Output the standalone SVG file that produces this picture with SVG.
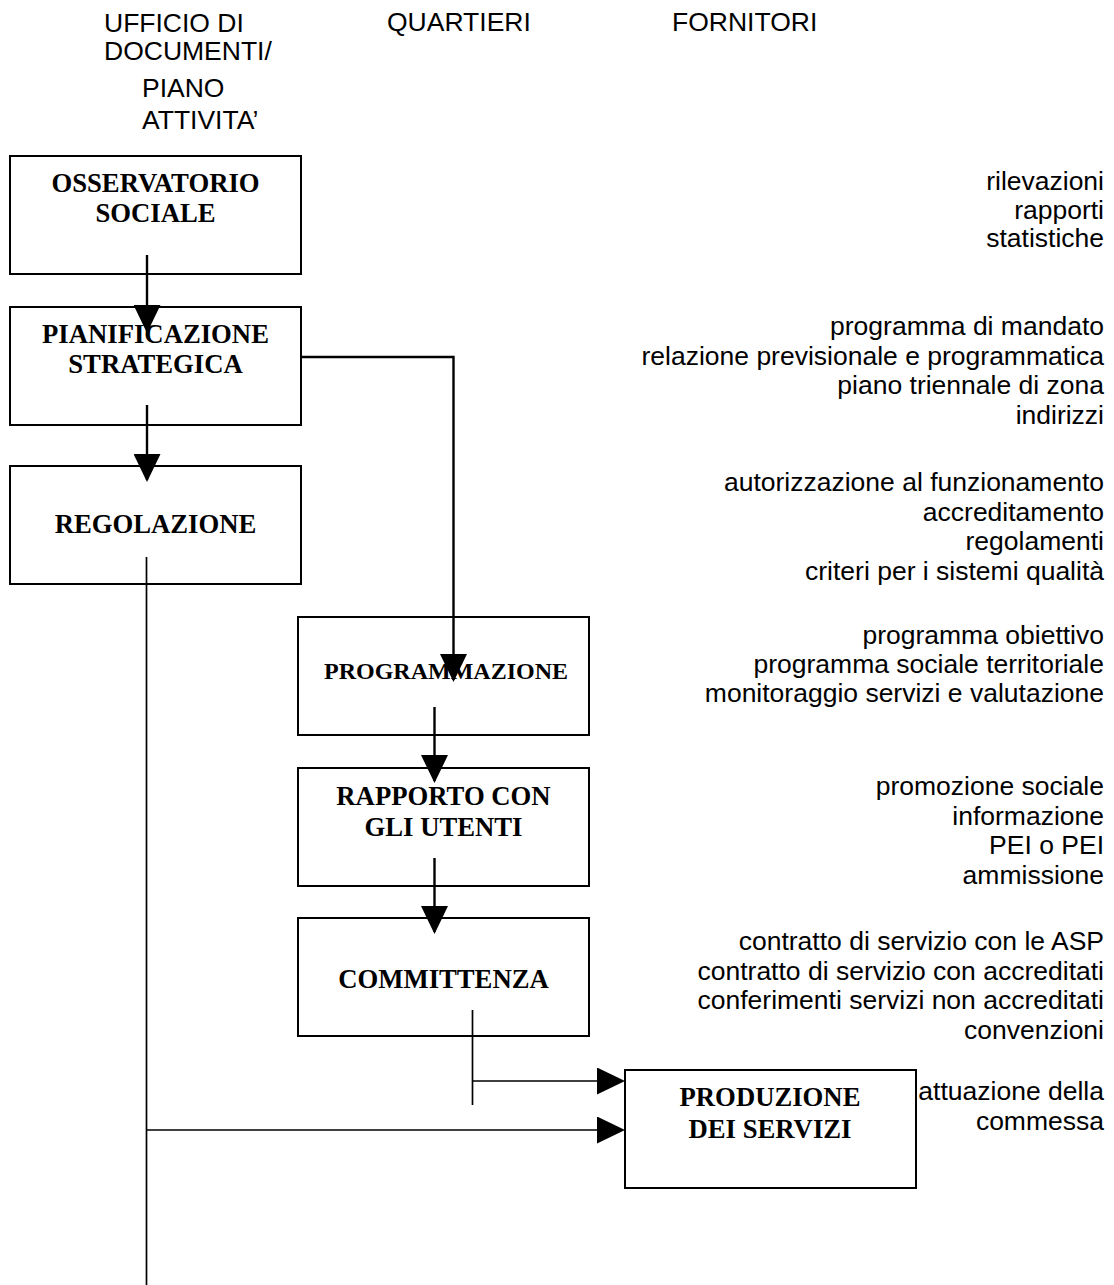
<svg xmlns="http://www.w3.org/2000/svg" width="1114" height="1285" viewBox="0 0 1114 1285">
<style>
.hdr{font-family:"Liberation Sans",Arial,sans-serif;font-size:26.5px;fill:#000}
.out{font-family:"Liberation Sans",Arial,sans-serif;font-size:26.5px;fill:#000;text-anchor:end}
.lbl{font-family:"Liberation Serif","Times New Roman",serif;font-weight:bold;font-size:26.7px;fill:#000;text-anchor:middle}
.box{fill:#fff;stroke:#000;stroke-width:2}
.con{fill:none;stroke:#000;stroke-width:2.4}
.thin{fill:none;stroke:#000;stroke-width:1.7}
</style>
<defs>
<marker id="ah" viewBox="0 0 28 27" refX="26" refY="13.5" markerWidth="28" markerHeight="27" markerUnits="userSpaceOnUse" orient="auto">
<path d="M0,0 L28,13.5 L0,27 Z" fill="#000"/>
</marker>
</defs>
<rect width="1114" height="1285" fill="#fff"/>
<g id="headers">
<text class="hdr" x="104" y="32">UFFICIO DI</text>
<text class="hdr" x="104" y="60">DOCUMENTI/</text>
<text class="hdr" x="142" y="97">PIANO</text>
<text class="hdr" x="142" y="129">ATTIVITA’</text>
<text class="hdr" x="387" y="31">QUARTIERI</text>
<text class="hdr" x="672" y="31">FORNITORI</text>
</g>
<g id="n-osservatorio">
<rect class="box" x="10" y="156" width="291" height="118"/>
<text class="lbl" x="155.5" y="192">OSSERVATORIO</text>
<text class="lbl" x="155.5" y="222">SOCIALE</text>
</g>
<g id="n-pianificazione">
<rect class="box" x="10" y="307" width="291" height="118"/>
<text class="lbl" x="155.5" y="343">PIANIFICAZIONE</text>
<text class="lbl" x="155.5" y="373">STRATEGICA</text>
</g>
<g id="n-regolazione">
<rect class="box" x="10" y="466" width="291" height="118"/>
<text class="lbl" x="155.5" y="533">REGOLAZIONE</text>
</g>
<g id="n-programmazione">
<rect class="box" x="298" y="617" width="291" height="118"/>
<text class="lbl" x="446" y="679" style="font-size:24px">PROGRAMMAZIONE</text>
</g>
<g id="n-rapporto">
<rect class="box" x="298" y="768" width="291" height="118"/>
<text class="lbl" x="443.5" y="805">RAPPORTO CON</text>
<text class="lbl" x="443.5" y="836">GLI UTENTI</text>
</g>
<g id="n-committenza">
<rect class="box" x="298" y="918" width="291" height="118"/>
<text class="lbl" x="443.5" y="988">COMMITTENZA</text>
</g>
<g id="n-produzione">
<rect class="box" x="625" y="1070" width="291" height="118"/>
<text class="lbl" x="770" y="1106">PRODUZIONE</text>
<text class="lbl" x="770" y="1138">DEI SERVIZI</text>
</g>
<g id="connectors">
<path class="con" d="M147,255 V331" marker-end="url(#ah)"/>
<path class="con" d="M147,405 V480" marker-end="url(#ah)"/>
<path class="con" d="M301,357 H453.5 V680" marker-end="url(#ah)"/>
<path class="con" d="M434.5,707 V781" marker-end="url(#ah)"/>
<path class="con" d="M434.5,858 V932" marker-end="url(#ah)"/>
<path class="thin" d="M146.5,557 V1285"/>
<path class="thin" d="M146.5,1130 H623" marker-end="url(#ah)"/>
<path class="thin" d="M472.5,1010 V1105 M472.5,1081 H623" marker-end="url(#ah)"/>
</g>
<g id="outputs">
<text class="out" x="1104" y="190">rilevazioni</text>
<text class="out" x="1104" y="218.5">rapporti</text>
<text class="out" x="1104" y="247">statistiche</text>
<text class="out" x="1104" y="335">programma di mandato</text>
<text class="out" x="1104" y="364.5">relazione previsionale e programmatica</text>
<text class="out" x="1104" y="394">piano triennale di zona</text>
<text class="out" x="1104" y="423.5">indirizzi</text>
<text class="out" x="1104" y="491">autorizzazione al funzionamento</text>
<text class="out" x="1104" y="520.5">accreditamento</text>
<text class="out" x="1104" y="550">regolamenti</text>
<text class="out" x="1104" y="579.5">criteri per i sistemi qualità</text>
<text class="out" x="1104" y="644">programma obiettivo</text>
<text class="out" x="1104" y="673">programma sociale territoriale</text>
<text class="out" x="1104" y="702">monitoraggio servizi e valutazione</text>
<text class="out" x="1104" y="795">promozione sociale</text>
<text class="out" x="1104" y="824.5">informazione</text>
<text class="out" x="1104" y="854">PEI o PEI</text>
<text class="out" x="1104" y="883.5">ammissione</text>
<text class="out" x="1104" y="950">contratto di servizio con le ASP</text>
<text class="out" x="1104" y="979.5">contratto di servizio con accreditati</text>
<text class="out" x="1104" y="1009">conferimenti servizi non accreditati</text>
<text class="out" x="1104" y="1038.5">convenzioni</text>
<text class="out" x="1104" y="1100">attuazione della</text>
<text class="out" x="1104" y="1129.5">commessa</text>
</g>
</svg>
